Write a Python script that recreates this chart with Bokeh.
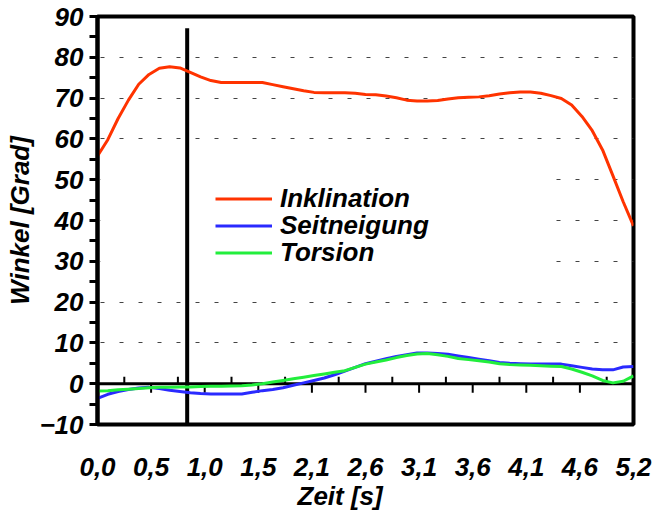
from bokeh.plotting import figure
from bokeh.models import (FixedTicker, Legend, LegendItem, Span, BoxAnnotation,
                          Title, Range1d)
from bokeh.embed import file_html
from bokeh.resources import INLINE

# ---- data ----
time_s = [0.0, 0.1, 0.2, 0.3, 0.4, 0.5, 0.6, 0.7, 0.8, 0.9,
          1.0, 1.1, 1.2, 1.3, 1.4, 1.5, 1.6, 1.7, 1.8, 1.9,
          2.0, 2.1, 2.2, 2.3, 2.4, 2.5, 2.6, 2.7, 2.8, 2.9,
          3.0, 3.1, 3.2, 3.3, 3.4, 3.5, 3.6, 3.7, 3.8, 3.9,
          4.0, 4.1, 4.2, 4.3, 4.4, 4.5, 4.6, 4.7, 4.8, 4.9,
          5.0, 5.1, 5.2]

inklination = [55.8, 59.8, 65.0, 69.5, 73.4, 75.8, 77.3, 77.7, 77.4, 76.3,
               75.2, 74.3, 73.8, 73.8, 73.8, 73.8, 73.8, 73.3, 72.8, 72.3,
               71.8, 71.4, 71.3, 71.3, 71.3, 71.2, 70.9, 70.8, 70.5, 70.1,
               69.5, 69.3, 69.3, 69.4, 69.8, 70.1, 70.2, 70.3, 70.6, 71.0,
               71.3, 71.5, 71.5, 71.2, 70.6, 69.9, 68.3, 65.5, 62.0, 57.3,
               51.0, 44.6, 38.7]

seitneigung = [-3.6, -2.6, -1.9, -1.4, -1.05, -0.9, -1.2, -1.6, -1.9, -2.2,
               -2.4, -2.5, -2.5, -2.5, -2.5, -2.1, -1.7, -1.4, -1.0, -0.4,
               0.2, 0.8, 1.4, 2.2, 3.1, 4.0, 4.9, 5.5, 6.1, 6.7,
               7.1, 7.5, 7.5, 7.4, 7.2, 6.8, 6.4, 6.0, 5.6, 5.2,
               5.0, 4.9, 4.8, 4.8, 4.8, 4.8, 4.4, 4.0, 3.6, 3.4,
               3.4, 4.1, 4.2]

torsion = [-1.8, -1.7, -1.5, -1.35, -1.2, -1.0, -0.9, -0.85, -0.8, -0.8,
           -0.7, -0.65, -0.6, -0.55, -0.5, -0.3, 0.0, 0.4, 0.8, 1.2,
           1.6, 2.0, 2.4, 2.8, 3.2, 4.0, 4.8, 5.3, 5.8, 6.4,
           6.9, 7.3, 7.4, 7.1, 6.7, 6.2, 5.9, 5.6, 5.3, 4.9,
           4.7, 4.6, 4.5, 4.4, 4.3, 4.2, 3.6, 2.8, 1.9, 0.8,
           0.2, 0.6, 1.9]

series_names = ["Inklination", "Seitneigung", "Torsion"]
series_colors = ["#FF3300", "#2A2AFF", "#22EE3C"]

x_tick_positions = [0.0, 0.52, 1.04, 1.56, 2.08, 2.6, 3.12, 3.64, 4.16, 4.68, 5.2]
x_minor_positions = [0.26, 0.78, 1.3, 1.82, 2.34, 2.86, 3.38, 3.9, 4.42, 4.94]
x_tick_labels = ["0,0", "0,5", "1,0", "1,5", "2,1", "2,6", "3,1", "3,6", "4,1", "4,6", "5,2"]
y_ticks = [-10, 0, 10, 20, 30, 40, 50, 60, 70, 80, 90]
y_minor = [-5, 5, 15, 25, 35, 45, 55, 65, 75, 85]
grid_levels = [10, 20, 30, 40, 50, 60, 70, 80]

marker_time = 0.87
marker_top = 87.1

x_title = "Zeit [s]"
y_title = "Winkel [Grad]"

FONT = "Liberation Sans"
FS = "26px"

p = figure(width=657, height=510, output_backend="svg", toolbar_location=None,
           x_range=Range1d(0, 5.2), y_range=Range1d(-10, 90),
           min_border_left=97, min_border_right=24, min_border_top=16,
           min_border_bottom=86)
p.background_fill_color = "white"
p.border_fill_color = "white"
p.outline_line_color = "black"
p.outline_line_width = 4

# grid (drawn beneath the legend backdrop)
p.xgrid.visible = False
p.ygrid.ticker = FixedTicker(ticks=grid_levels)
p.ygrid.grid_line_color = "#444444"
p.ygrid.grid_line_width = 1
p.ygrid.grid_line_dash = "4 15"
p.ygrid.grid_line_dash_offset = -3
p.ygrid.level = "image"

# white legend backdrop covering gridlines
p.add_layout(BoxAnnotation(left=0.03, right=4.35, bottom=25.0, top=55.5,
                           fill_color="white", fill_alpha=1.0, line_alpha=0,
                           level="underlay"))

# zero line
p.add_layout(Span(location=0, dimension="width", line_color="black",
                  line_width=3, level="underlay"))

# y axis
ya = p.yaxis[0]
ya.ticker = FixedTicker(ticks=y_ticks, minor_ticks=y_minor)
ya.axis_line_width = 4
ya.axis_line_color = "black"
ya.major_tick_line_width = 3
ya.minor_tick_line_width = 3
ya.major_tick_out = 8
ya.major_tick_in = 0
ya.minor_tick_out = 8
ya.minor_tick_in = 0
ya.major_label_text_font = FONT
ya.major_label_text_font_style = "bold italic"
ya.major_label_text_font_size = FS
ya.major_label_text_color = "black"
ya.major_label_standoff = 6

# x axis (labels only)
xa = p.xaxis[0]
xa.ticker = FixedTicker(ticks=x_tick_positions, minor_ticks=[])
xa.major_label_overrides = {pos: lab for pos, lab in zip(x_tick_positions, x_tick_labels)}
xa.axis_line_color = None
xa.major_tick_line_color = None
xa.minor_tick_line_color = None
xa.major_label_text_font = FONT
xa.major_label_text_font_style = "bold italic"
xa.major_label_text_font_size = FS
xa.major_label_text_color = "black"
xa.major_label_standoff = 27

# ticks on the zero line: major below, minor above
tick_down = 9 / 4.08
tick_up = 7 / 4.08
p.segment(x0=x_tick_positions, y0=[0] * len(x_tick_positions),
          x1=x_tick_positions, y1=[-tick_down] * len(x_tick_positions),
          line_color="black", line_width=2)
p.segment(x0=x_minor_positions, y0=[0] * len(x_minor_positions),
          x1=x_minor_positions, y1=[tick_up] * len(x_minor_positions),
          line_color="black", line_width=2)

# marker line
p.segment(x0=[marker_time], y0=[-10], x1=[marker_time], y1=[marker_top],
          line_color="black", line_width=4)

# series
renderers = []
for name, vals, col in zip(series_names, [inklination, seitneigung, torsion], series_colors):
    r = p.line(time_s, vals, line_color=col, line_width=3)
    renderers.append(r)

# one legend per row so that the row pitch matches the reference
legend_rows_y = [210, 183, 156]
for n, r, ly in zip(series_names, renderers, legend_rows_y):
    lg = Legend(items=[LegendItem(label=n, renderers=[r])], location=(118, ly))
    lg.background_fill_alpha = 0
    lg.border_line_color = None
    lg.padding = 0
    lg.margin = 0
    lg.spacing = 0
    lg.glyph_width = 57
    lg.glyph_height = 27
    lg.label_height = 27
    lg.label_standoff = 8
    lg.label_text_font = FONT
    lg.label_text_font_style = "bold italic"
    lg.label_text_font_size = FS
    lg.label_text_color = "black"
    p.add_layout(lg, "center")

# axis titles
p.add_layout(Title(text=x_title, align="left", offset=200, standoff=0,
                   text_font=FONT, text_font_style="bold italic",
                   text_font_size=FS, text_color="black",
                   text_line_height=1.0), "below")
p.add_layout(Title(text=y_title, align="center", offset=8, standoff=4,
                   text_font=FONT, text_font_style="bold italic",
                   text_font_size=FS, text_color="black",
                   text_line_height=1.0), "left")

open("out.html", "w").write(file_html(p, INLINE))
